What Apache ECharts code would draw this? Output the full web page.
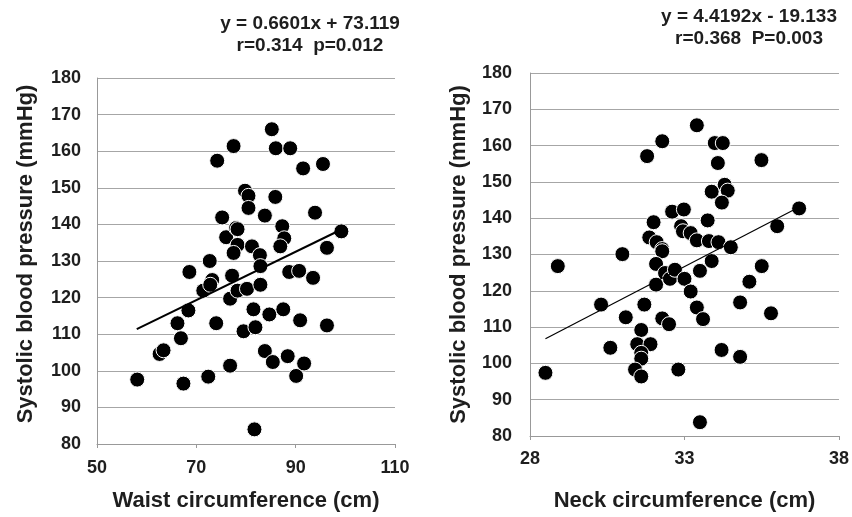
<!DOCTYPE html>
<html><head><meta charset="utf-8">
<script src="https://cdn.jsdelivr.net/npm/echarts@6/dist/echarts.min.js"></script>
<style>html,body{margin:0;padding:0;background:#fff}#c{width:852px;height:517px}</style>
</head><body><div id="c"></div>
<script>
// Left panel: waist circumference (cm) vs systolic BP (mmHg)
const waistPoints = [
  [58.1,97.6],[62.6,104.6],[63.4,105.6],[66.2,113.0],[66.9,108.9],[67.4,96.5],[68.6,127.0],[68.4,116.5],
  [71.4,121.9],[72.7,130.0],[73.2,124.8],[72.8,123.5],[72.4,98.4],[74.0,113.0],[74.2,157.4],[75.2,141.9],
  [76.0,136.5],[77.5,161.4],[78.0,139.0],[78.3,134.4],[77.5,132.2],[77.2,126.0],[76.8,119.7],[78.3,121.9],
  [76.8,101.4],[79.8,149.2],[80.5,147.8],[80.5,144.5],[81.2,134.0],[82.8,131.6],[80.2,122.4],[79.5,110.8],
  [81.5,116.8],[81.9,111.9],[82.9,123.5],[82.9,128.6],[81.7,84.0],[83.8,142.4],[85.2,166.0],[86.0,160.8],
  [88.9,160.8],[85.9,147.5],[87.3,139.5],[87.7,136.2],[86.9,134.0],[83.8,105.4],[85.4,102.4],[84.7,115.4],
  [87.5,116.8],[88.7,127.0],[90.7,127.3],[88.4,104.0],[90.1,98.6],[90.9,113.8],[91.7,102.0],[93.5,125.4],
  [93.9,143.2],[91.5,155.3],[95.5,156.5],[96.3,133.6],[96.3,112.4],[99.2,138.1],[78.3,138.7]
];
const waistTrend = [[58.0,111.4],[99.2,138.6]];
// Right panel: neck circumference (cm) vs systolic BP (mmHg)
const neckPoints = [
  [31.79,157.1],[32.28,161.2],[33.40,165.6],[33.98,160.7],[34.24,160.7],[34.08,155.2],[35.49,156.0],
  [34.30,149.2],[34.40,147.6],[33.88,147.3],[34.21,144.3],[32.60,141.8],[32.98,142.4],[32.00,138.9],
  [32.89,137.8],[32.95,136.4],[33.20,135.9],[33.75,139.4],[36.71,142.7],[36.00,137.8],[31.86,134.7],
  [32.10,133.4],[32.28,131.5],[33.40,133.9],[33.79,133.7],[34.10,133.4],[34.50,132.0],[30.99,130.1],
  [28.90,126.8],[32.28,130.9],[32.08,127.4],[32.08,121.7],[32.37,124.9],[32.53,123.3],[32.69,125.8],
  [33.00,123.3],[33.20,119.8],[33.50,125.5],[33.88,128.2],[35.10,122.5],[35.50,126.8],[34.80,116.8],
  [35.80,113.8],[30.30,116.2],[31.10,112.7],[31.70,116.2],[32.28,112.4],[32.50,110.8],[33.40,115.4],
  [33.60,112.2],[31.60,109.2],[30.60,104.3],[31.47,105.3],[31.90,105.3],[31.60,102.9],[31.60,101.3],
  [31.40,98.3],[31.60,96.4],[32.80,98.3],[34.20,103.7],[34.80,101.8],[28.50,97.4],[33.50,83.8]
];
const neckTrend = [[28.5,106.8],[36.7,143.0]];
const leftTitle = ['y = 0.6601x + 73.119', 'r=0.314  p=0.012'];
const rightTitle = ['y = 4.4192x - 19.133', 'r=0.368  P=0.003'];
const yTitle = 'Systolic blood pressure (mmHg)';
const xTitles = ['Waist circumference (cm)', 'Neck circumference (cm)'];

const FF = '"Liberation Sans", Arial, sans-serif';
const txt = '#1e1e1e';
function yAx(idx, gap, margin, pad){
  return {gridIndex: idx, type:'value', min:80, max:180, interval:10,
    name: yTitle, nameLocation:'middle', nameGap: gap, nameRotate: 90,
    nameTextStyle:{fontFamily:FF, fontWeight:'bold', fontSize:22, color:txt, padding: pad},
    axisLine:{show:true, lineStyle:{color:'#999', width:1}},
    axisTick:{show:false},
    axisLabel:{fontFamily:FF, fontWeight:'bold', fontSize:18, color:txt, margin: margin},
    splitLine:{show:true, lineStyle:{color:'#a6a6a6', width:1}}};
}
function xAx(idx, min, max, interval, name, gap, margin){
  return {gridIndex: idx, type:'value', min:min, max:max, interval:interval,
    name: name, nameLocation:'middle', nameGap: gap,
    nameTextStyle:{fontFamily:FF, fontWeight:'bold', fontSize:22, color:txt},
    axisLine:{show:true, lineStyle:{color:'#999', width:1}},
    axisTick:{show:true, length:4, lineStyle:{color:'#999'}},
    axisLabel:{fontFamily:FF, fontWeight:'bold', fontSize:18, color:txt, margin: margin},
    splitLine:{show:false}};
}
const chart = echarts.init(document.getElementById('c'), null, {renderer:'canvas'});
const titleStyle = (t, x, y) => ({type:'text', x:x, y:y,
  style:{text:t, x:0, y:0, textAlign:'center', textVerticalAlign:'middle', fill:txt,
    font:'bold 19px ' + FF}});
chart.setOption({
  animation:false,
  backgroundColor:'#fff',
  grid:[
    {left:97, top:78, width:298, height:370},
    {left:530, top:73, width:311, height:367}
  ],
  xAxis:[
    xAx(0, 50, 110, 20, xTitles[0], 46, 15),
    xAx(1, 28, 38, 5, xTitles[1], 54, 14)
  ],
  yAxis:[ yAx(0, 60, 16, [0,0,0,14]), yAx(1, 60, 18, 0) ],
  graphic:[
    titleStyle(leftTitle[0], 310, 24),
    titleStyle(leftTitle[1], 310, 46),
    titleStyle(rightTitle[0], 749, 17),
    titleStyle(rightTitle[1], 749, 39)
  ],
  series:[
    {type:'line', xAxisIndex:0, yAxisIndex:0, data:waistTrend, symbol:'none',
      lineStyle:{color:'#000', width:2}, z:3},
    {type:'scatter', xAxisIndex:0, yAxisIndex:0, data:waistPoints, symbolSize:15,
      itemStyle:{color:'#000', borderColor:'#fff', borderWidth:1, opacity:1}, z:2},
    {type:'line', xAxisIndex:1, yAxisIndex:1, data:neckTrend, symbol:'none',
      lineStyle:{color:'#000', width:1.2}, z:3},
    {type:'scatter', xAxisIndex:1, yAxisIndex:1, data:neckPoints, symbolSize:15,
      itemStyle:{color:'#000', borderColor:'#fff', borderWidth:1, opacity:1}, z:2}
  ]
});
</script></body></html>
